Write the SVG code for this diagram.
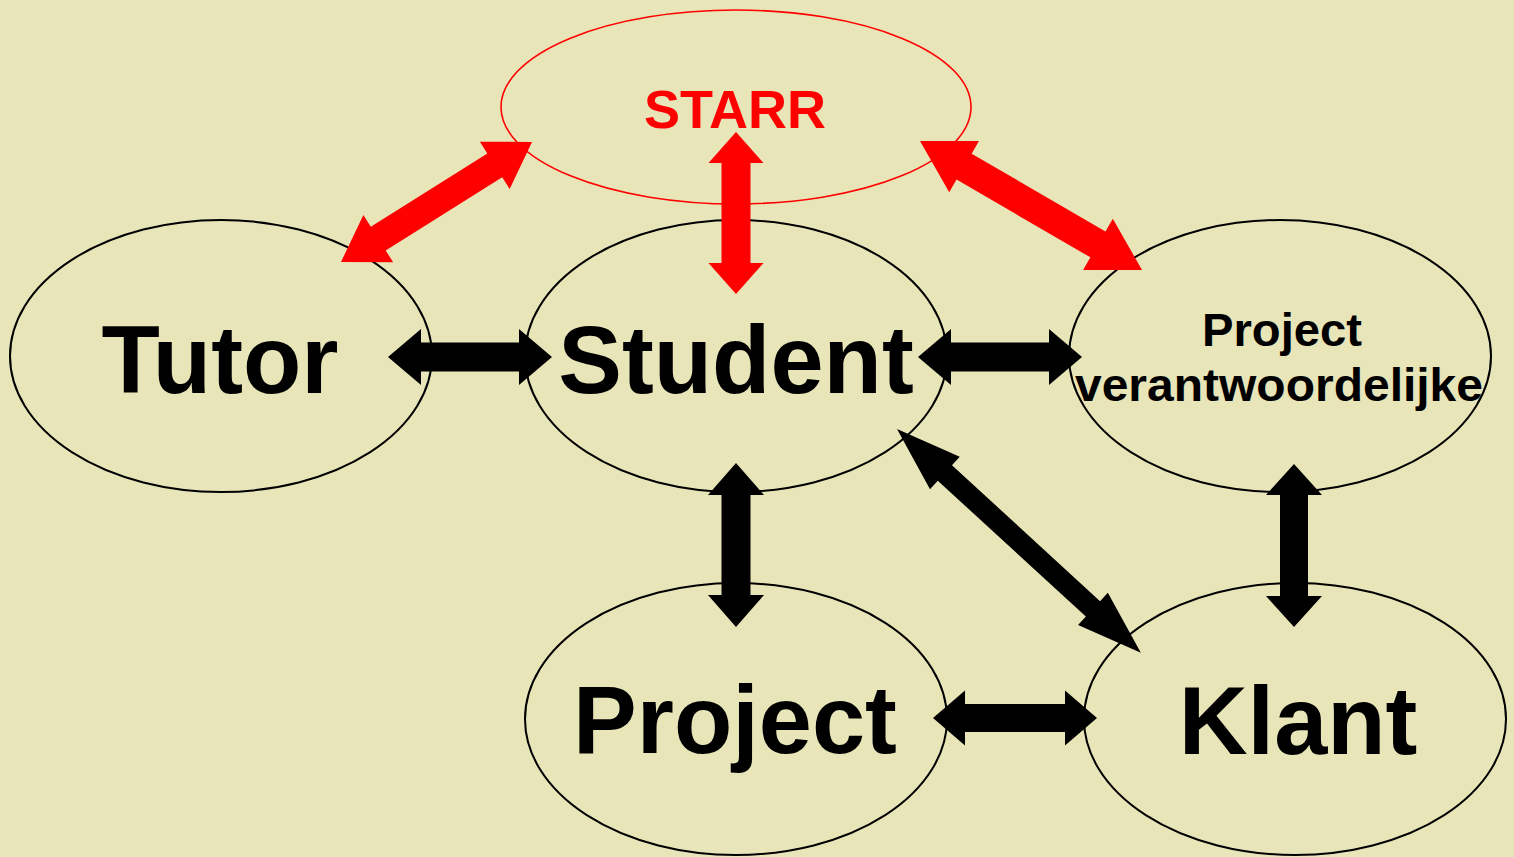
<svg xmlns="http://www.w3.org/2000/svg" width="1514" height="857" viewBox="0 0 1514 857">
  <style>
    .node { fill: none; stroke: #000; stroke-width: 2; }
    .starr { fill: none; stroke: #ff0000; stroke-width: 1.6; }
    .big { font-family: "Liberation Sans", Arial, sans-serif; font-weight: bold; font-size: 95.5px; fill: #000; text-anchor: middle; }
    .mid { font-family: "Liberation Sans", Arial, sans-serif; font-weight: bold; font-size: 46px; fill: #000; text-anchor: middle; }
    .red { font-family: "Liberation Sans", Arial, sans-serif; font-weight: bold; font-size: 54px; fill: #ff0000; text-anchor: middle; }
    .blk { fill: #000; }
    .rd { fill: #ff0000; }
  </style>
  <rect x="0" y="0" width="1514" height="857" fill="#e8e5b9"/>

  <g id="starr">
    <ellipse class="starr" cx="736" cy="107" rx="235" ry="97"/>
    <text class="red" x="735" y="128">STARR</text>
  </g>
  <g id="tutor">
    <ellipse class="node" cx="221" cy="356" rx="211" ry="136"/>
    <text class="big" x="220" y="393">Tutor</text>
  </g>
  <g id="student">
    <ellipse class="node" cx="736" cy="356" rx="211" ry="136"/>
    <text class="big" x="736" y="393">Student</text>
  </g>
  <g id="projectverantwoordelijke">
    <ellipse class="node" cx="1280" cy="356" rx="211" ry="136"/>
    <text class="mid" x="1282" y="346" textLength="160" lengthAdjust="spacingAndGlyphs">Project</text>
    <text class="mid" x="1279" y="401" textLength="408" lengthAdjust="spacingAndGlyphs">verantwoordelijke</text>
  </g>
  <g id="project">
    <ellipse class="node" cx="736" cy="719" rx="211" ry="136"/>
    <text class="big" x="735" y="753">Project</text>
  </g>
  <g id="klant">
    <ellipse class="node" cx="1295" cy="719" rx="211" ry="136"/>
    <text class="big" x="1298" y="754">Klant</text>
  </g>

  <g id="connectors">
    <!-- Tutor - Student -->
    <polygon class="blk" transform="translate(388,357)" points="0,0 33,-28 33,-14.5 131,-14.5 131,-28 164,0 131,28 131,14.5 33,14.5 33,28"/>
    <!-- Student - Projectverantwoordelijke -->
    <polygon class="blk" transform="translate(918,357)" points="0,0 33,-28 33,-14.5 131,-14.5 131,-28 164,0 131,28 131,14.5 33,14.5 33,28"/>
    <!-- Project - Klant -->
    <polygon class="blk" transform="translate(933,718)" points="0,0 32,-27.5 32,-14 132,-14 132,-27.5 164,0 132,27.5 132,14 32,14 32,27.5"/>
    <!-- Student - Project -->
    <polygon class="blk" transform="translate(736,463) rotate(90)" points="0,0 32,-28 32,-14.5 132,-14.5 132,-28 164,0 132,28 132,14.5 32,14.5 32,28"/>
    <!-- Projectverantwoordelijke - Klant -->
    <polygon class="blk" transform="translate(1294,464) rotate(90)" points="0,0 31,-28 31,-14 132,-14 132,-28 163,0 132,28 132,14 31,14 31,28"/>
    <!-- Student - Klant -->
    <polygon class="blk" transform="translate(897,429) rotate(42.55)" points="0,0 65,-22 65,-10.5 266,-10.5 266,-22 331,0 266,22 266,10.5 65,10.5 65,22"/>
    <!-- Tutor - STARR -->
    <polygon class="rd" transform="translate(341,262) rotate(-32.14)" points="0,0 44,-28 44,-14 181.6,-14 181.6,-28 225.6,0 181.6,28 181.6,14 44,14 44,28"/>
    <!-- STARR - Student -->
    <polygon class="rd" transform="translate(736,132) rotate(90)" points="0,0 31,-27.5 31,-14.5 131,-14.5 131,-27.5 162,0 131,27.5 131,14.5 31,14.5 31,27.5"/>
    <!-- STARR - Projectverantwoordelijke -->
    <polygon class="rd" transform="translate(920,141) rotate(30.16)" points="0,0 51,-29.6 51,-15 205.8,-15 205.8,-29.6 256.8,0 205.8,29.6 205.8,15 51,15 51,29.6"/>
  </g>
</svg>
